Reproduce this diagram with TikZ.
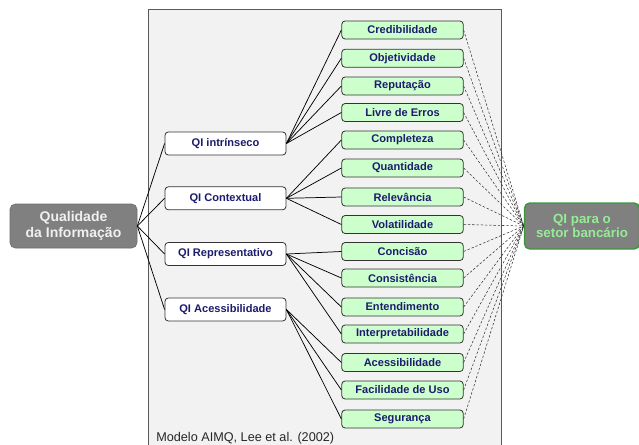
\documentclass[tikz,border=0pt]{standalone}
\usepackage{fontspec}
\setmainfont{Liberation Sans}
\definecolor{navy}{RGB}{28,28,110}
\definecolor{leafgreen}{RGB}{204,255,204}
\definecolor{bggray}{RGB}{242,242,242}
\definecolor{boxgray}{RGB}{128,128,128}
\definecolor{rgreen}{RGB}{60,150,60}
\definecolor{rtext}{RGB}{150,235,150}
\tikzset{
  leaf/.style={draw=black!80, fill=leafgreen, rounded corners=2.5pt, line width=0.6pt,
    minimum width=91.1pt, minimum height=13.5pt, inner sep=0pt,
    font=\fontsize{8.3}{9}\selectfont\bfseries, text=navy},
  mid/.style={draw=black!80, fill=white, rounded corners=2.5pt, line width=0.6pt,
    minimum width=90.75pt, minimum height=17.25pt, inner sep=0pt,
    font=\fontsize{8.3}{9}\selectfont\bfseries, text=navy},
  rootbox/.style={fill=boxgray, draw=boxgray!85!black, rounded corners=4pt, line width=0.5pt,
    minimum width=95.25pt, minimum height=33pt, inner sep=0pt, align=center,
    font=\fontsize{10.5}{11.5}\selectfont\bfseries, text=white!94!black},
  goalbox/.style={fill=boxgray, draw=rgreen, rounded corners=4pt, line width=1.1pt,
    minimum width=86.25pt, minimum height=34.5pt, inner sep=0pt, align=center,
    font=\fontsize{10}{11}\selectfont\bfseries, text=rtext},
  conn/.style={draw=black, line width=0.55pt},
  dconn/.style={draw=black!80, line width=0.4pt, dash pattern=on 1.8pt off 1.4pt},
}
\begin{document}
\begin{tikzpicture}[x=0.75pt,y=-0.75pt]
\useasboundingbox (0,0) rectangle (639,444);
\fill[bggray] (148,9.5) rectangle (501.5,446);
\draw[black!65, line width=0.6pt] (148,446) -- (148,9.5) -- (501.5,9.5) -- (501.5,446);

\node[rootbox] (root) at (73.5,226) {Qualidade\\da Informação};
\node[goalbox] (goal) at (582,226) {QI para o\\setor bancário};

\node[mid] (m1) at (225.5,143.5) {QI intrínseco};
\node[mid] (m2) at (225.5,198.3) {QI Contextual};
\node[mid] (m3) at (225.5,254) {QI Representativo};
\node[mid] (m4) at (225.5,309.5) {QI Acessibilidade};

\node[leaf] (l1) at (402.5,30) {Credibilidade};
\node[leaf] (l2) at (402.5,58.2) {Objetividade};
\node[leaf] (l3) at (402.5,86) {Reputação};
\node[leaf] (l4) at (402.5,112.5) {Livre de Erros};
\node[leaf] (l5) at (402.5,140) {Completeza};
\node[leaf] (l6) at (402.5,168) {Quantidade};
\node[leaf] (l7) at (402.5,197) {Relevância};
\node[leaf] (l8) at (402.5,224.5) {Volatilidade};
\node[leaf] (l9) at (402.5,251.5) {Concisão};
\node[leaf] (l10) at (402.5,278) {Consistência};
\node[leaf] (l11) at (402.5,307) {Entendimento};
\node[leaf] (l12) at (402.5,334) {Interpretabilidade};
\node[leaf] (l13) at (402.5,362.5) {Acessibilidade};
\node[leaf] (l14) at (402.5,390) {Facilidade de Uso};
\node[leaf] (l15) at (402.5,419) {Segurança};

\node[anchor=base west, inner sep=0pt, font=\fontsize{9.5}{10}\selectfont, text=black!85] (cap) at (156,441) {Modelo AIMQ, Lee et al. (2002)};

\foreach \m in {m1,m2,m3,m4} \draw[conn] (root.east) -- (\m.west);
\foreach \l in {l1,l2,l3,l4} \draw[conn] (m1.east) -- (\l.west);
\foreach \l in {l5,l6,l7,l8} \draw[conn] (m2.east) -- (\l.west);
\foreach \l in {l9,l10,l11,l12} \draw[conn] (m3.east) -- (\l.west);
\foreach \l in {l13,l14,l15} \draw[conn] (m4.east) -- (\l.west);
\foreach \l in {l1,l2,l3,l4,l5,l6,l7,l8,l9,l10,l11,l12,l13,l14,l15} \draw[dconn] (\l.east) -- (goal.west);
\end{tikzpicture}
\end{document}
